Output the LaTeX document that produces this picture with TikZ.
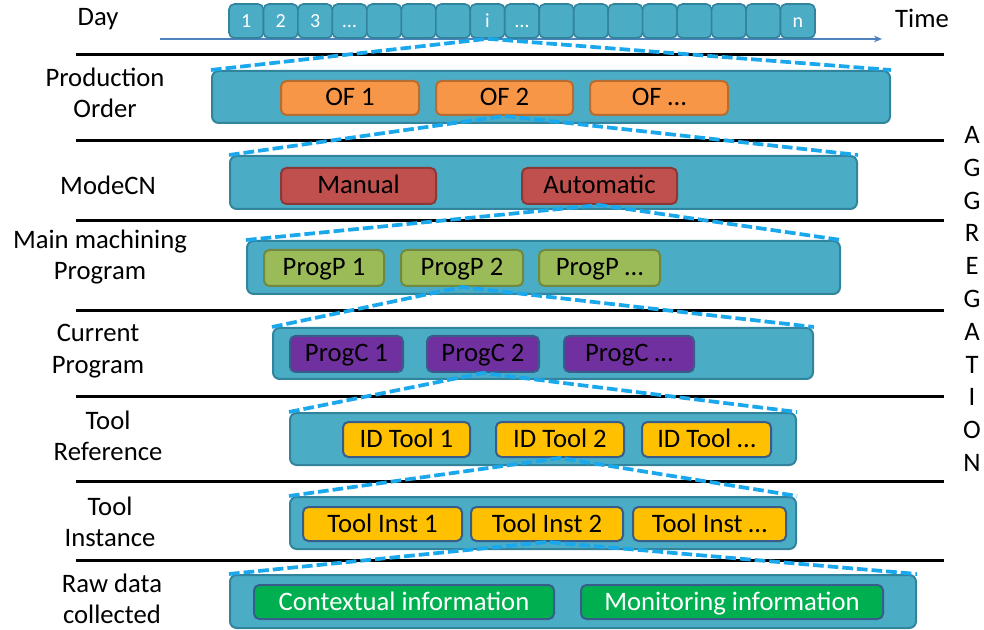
\documentclass[tikz,border=0pt]{standalone}
\usepackage{fontspec}
\setmainfont{Carlito}
\usetikzlibrary{fit,arrows.meta}
\definecolor{bigfill}{HTML}{4BACC6}
\definecolor{bigdraw}{HTML}{31849B}
\definecolor{oF}{HTML}{F79646}\definecolor{oD}{HTML}{B66D31}
\definecolor{rF}{HTML}{C0504D}\definecolor{rD}{HTML}{8C3836}
\definecolor{gF}{HTML}{9BBB59}\definecolor{gD}{HTML}{71893F}
\definecolor{pF}{HTML}{7030A0}\definecolor{pD}{HTML}{385D8A}
\definecolor{yF}{HTML}{FFC000}\definecolor{yD}{HTML}{385D8A}
\definecolor{eF}{HTML}{00B050}\definecolor{eD}{HTML}{385D8A}
\definecolor{dashc}{HTML}{1AA7EC}
\definecolor{tline}{HTML}{4F81BD}
\begin{document}
\begin{tikzpicture}[x=0.75pt,y=-0.75pt,
  bigbox/.style={draw=bigdraw, fill=bigfill, line width=1.5pt, rounded corners=5pt, inner sep=0pt},
  cell/.style={draw=bigdraw, fill=bigfill, line width=1.2pt, rounded corners=4pt, inner sep=0pt},
  celltxt/.style={text=white, font=\fontsize{15}{17}\selectfont, inner sep=0pt, text height=11pt, text depth=1pt},
  item/.style={line width=1.5pt, rounded corners=4pt, inner sep=0pt},
  itxt/.style={font=\fontsize{20}{24}\selectfont, inner sep=0pt, text height=16pt, text depth=4pt},
  ofbox/.style={item, fill=oF, draw=oD},
  modebox/.style={item, fill=rF, draw=rD},
  ppbox/.style={item, fill=gF, draw=gD},
  pcbox/.style={item, fill=pF, draw=pD},
  toolbox/.style={item, fill=yF, draw=yD},
  rawbox/.style={item, fill=eF, draw=eD},
  dashline/.style={draw=dashc, line width=2.8pt, dash pattern=on 8pt off 3pt},
  sepline/.style={draw=black, line width=2.25pt},
  lab/.style={align=center, font=\fontsize{20}{23.5}\selectfont, inner sep=0pt}
]
\useasboundingbox (0,0) rectangle (984,630);

% timeline
\coordinate (t0) at (160,39);
\coordinate (t1) at (882,39);
\draw[tline, line width=0.9pt, -{Stealth[length=6pt,width=5pt]}] (t0) -- (t1);

% day cells
\foreach \k in {0,...,16}{
  \pgfmathsetmacro{\xa}{229+34.47*\k}
  \pgfmathsetmacro{\xb}{229+34.47*(\k+1)}
  \node[cell, fit={(\xa,4) (\xb,38)}] (d\k) {};
}
\node[celltxt] at (d0.center) {1};
\node[celltxt] at (d1.center) {2};
\node[celltxt] at (d2.center) {3};
\node[celltxt] at (d3.center) {\ldots};
\node[celltxt] at (d7.center) {i};
\node[celltxt] at (d8.center) {\ldots};
\node[celltxt] at (d16.center) {n};

\node[lab] (day) at (98,19) {Day};
\node[lab] (time) at (922,18) {Time};

% separator lines
\foreach \yy [count=\n] in {55,141,221,311,397,481,560}{
  \coordinate (sa\n) at (76,\yy);
  \coordinate (sb\n) at (944,\yy);
  \draw[sepline] (sa\n) -- (sb\n);
}

% row labels
\node[lab] (l1) at (105,93) {Production\\Order};
\node[lab] (l2) at (108,185) {ModeCN};
\node[lab] (l3) at (100,257) {Main machining\\Program};
\node[lab] (l4) at (98,351) {Current\\Program};
\node[lab] (l5) at (108,436) {Tool\\Reference};
\node[lab] (l6) at (110,522) {Tool\\Instance};
\node[lab] (l7) at (112,599) {Raw data\\collected};

% AGGREGATION
\node[align=center, font=\fontsize{20}{24.6}\selectfont, inner sep=0pt] (agg) at (972,299)
  {A\\G\\G\\R\\E\\G\\A\\T\\I\\O\\N};

% big boxes
\node[bigbox, fit={(212,71) (890,123)}] (po) {};
\node[bigbox, fit={(230,156) (857,209)}] (mode) {};
\node[bigbox, fit={(247,241) (840,294)}] (main) {};
\node[bigbox, fit={(273,328) (813,379)}] (cur) {};
\node[bigbox, fit={(290,413) (796,465)}] (ref) {};
\node[bigbox, fit={(290,497) (796,549)}] (inst) {};
\node[bigbox, fit={(230,575) (916,628)}] (raw) {};

% inner boxes
\node[ofbox, fit={(281,81) (419,115)}] (of1) {};
\node[ofbox, fit={(436,81) (573,115)}] (of2) {};
\node[ofbox, fit={(590,81) (728,115)}] (of3) {};
\node[itxt] at (of1.center) {OF 1};
\node[itxt] at (of2.center) {OF 2};
\node[itxt] at (of3.center) {OF \ldots};

\node[modebox, fit={(281,168) (436,204)}] (manual) {};
\node[modebox, fit={(522,168) (677,204)}] (auto) {};
\node[itxt] at (manual.center) {Manual};
\node[itxt] at (auto.center) {Automatic};

\node[ppbox, fit={(264,250) (384,286)}] (pp1) {};
\node[ppbox, fit={(401,250) (523,286)}] (pp2) {};
\node[ppbox, fit={(539,250) (660,286)}] (pp3) {};
\node[itxt] at (pp1.center) {ProgP 1};
\node[itxt] at (pp2.center) {ProgP 2};
\node[itxt] at (pp3.center) {ProgP \ldots};

\node[pcbox, fit={(290,336) (403,372)}] (pc1) {};
\node[pcbox, fit={(427,336) (539,372)}] (pc2) {};
\node[pcbox, fit={(564,336) (694,372)}] (pc3) {};
\node[itxt] at (pc1.center) {ProgC 1};
\node[itxt] at (pc2.center) {ProgC 2};
\node[itxt] at (pc3.center) {ProgC \ldots};

\node[toolbox, fit={(343,422) (470,457)}] (id1) {};
\node[toolbox, fit={(496,422) (624,457)}] (id2) {};
\node[toolbox, fit={(642,422) (771,457)}] (id3) {};
\node[itxt] at (id1.center) {ID Tool 1};
\node[itxt] at (id2.center) {ID Tool 2};
\node[itxt] at (id3.center) {ID Tool \ldots};

\node[toolbox, fit={(303,507) (462,541)}] (ti1) {};
\node[toolbox, fit={(471,507) (623,541)}] (ti2) {};
\node[toolbox, fit={(633,507) (786,541)}] (ti3) {};
\node[itxt] at (ti1.center) {Tool Inst 1};
\node[itxt] at (ti2.center) {Tool Inst 2};
\node[itxt] at (ti3.center) {Tool Inst \ldots};

\node[rawbox, fit={(254,585) (554,619)}] (ctx) {};
\node[rawbox, fit={(581,585) (883,619)}] (mon) {};
\node[itxt, text=white] at (ctx.center) {Contextual information};
\node[itxt, text=white] at (mon.center) {Monitoring information};

% dashed zoom lines
\draw[dashline] (po.north west) -- (d7.south) -- (po.north east);
\draw[dashline] (mode.north west) -- (of2.south) -- (mode.north east);
\draw[dashline] (main.north west) -- (auto.south) -- (main.north east);
\draw[dashline] (cur.north west) -- (pp2.south) -- (cur.north east);
\draw[dashline] (ref.north west) -- (pc2.south) -- (ref.north east);
\draw[dashline] (inst.north west) -- (id2.south) -- (inst.north east);
\draw[dashline] (raw.north west) -- (ti2.south) -- (raw.north east);
\end{tikzpicture}
\end{document}
